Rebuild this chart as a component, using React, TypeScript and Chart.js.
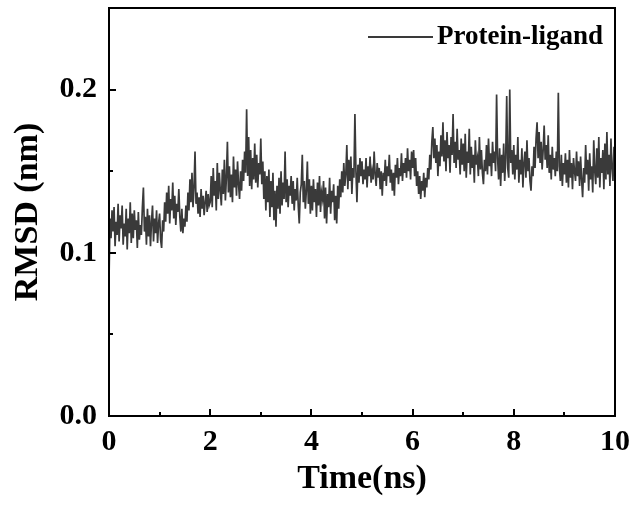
import React, { useEffect, useRef } from 'react';
import { Chart, registerables } from 'chart.js';

Chart.register(...registerables);

// ---- data (RMSD in nm, sampled every 0.02 ns) ----
const STEP_NS = 0.02;
const RMSD_0_1 = [
  0.083, 0.121, 0.109, 0.126, 0.113, 0.128, 0.104, 0.119, 0.111, 0.130,
  0.107, 0.123, 0.115, 0.129, 0.105, 0.118, 0.110, 0.127, 0.102, 0.121,
  0.112, 0.131, 0.106, 0.124, 0.109, 0.126, 0.114, 0.120, 0.103, 0.125,
  0.108, 0.117, 0.111, 0.128, 0.140, 0.113, 0.122, 0.105, 0.127, 0.110,
  0.123, 0.104, 0.119, 0.129, 0.107, 0.121, 0.112, 0.126, 0.106, 0.118,
];
const RMSD_1_2 = [
  0.124, 0.108, 0.103, 0.120, 0.113, 0.131, 0.119, 0.137, 0.124, 0.141,
  0.118, 0.133, 0.126, 0.143, 0.121, 0.135, 0.117, 0.130, 0.125, 0.139,
  0.122, 0.113, 0.127, 0.112, 0.121, 0.116, 0.129, 0.119, 0.137, 0.126,
  0.145, 0.131, 0.149, 0.128, 0.140, 0.162, 0.130, 0.137, 0.124, 0.134,
  0.122, 0.139, 0.127, 0.135, 0.123, 0.131, 0.138, 0.125, 0.136, 0.129,
];
const RMSD_2_3 = [
  0.131, 0.147, 0.128, 0.152, 0.135, 0.144, 0.126, 0.155, 0.133, 0.149,
  0.138, 0.129, 0.151, 0.136, 0.157, 0.132, 0.146, 0.168, 0.137, 0.153,
  0.134, 0.148, 0.131, 0.159, 0.140, 0.151, 0.135, 0.156, 0.142, 0.133,
  0.150, 0.138, 0.157, 0.144, 0.162, 0.149, 0.188, 0.147, 0.171, 0.141,
  0.163, 0.139, 0.158, 0.145, 0.167, 0.143, 0.160, 0.140, 0.155, 0.148,
];
const RMSD_3_4 = [
  0.170, 0.142, 0.156, 0.133, 0.150, 0.126, 0.147, 0.131, 0.151, 0.122,
  0.144, 0.128, 0.149, 0.120, 0.138, 0.116, 0.141, 0.127, 0.146, 0.124,
  0.150, 0.129, 0.143, 0.133, 0.162, 0.131, 0.145, 0.128, 0.141, 0.135,
  0.147, 0.130, 0.144, 0.126, 0.139, 0.132, 0.146, 0.129, 0.118, 0.137,
  0.142, 0.160, 0.131, 0.144, 0.127, 0.138, 0.156, 0.130, 0.145, 0.124,
];
const RMSD_4_5 = [
  0.141, 0.126, 0.145, 0.131, 0.139, 0.122, 0.143, 0.129, 0.147, 0.125,
  0.137, 0.133, 0.144, 0.121, 0.140, 0.118, 0.136, 0.128, 0.146, 0.124,
  0.138, 0.131, 0.142, 0.120, 0.135, 0.118, 0.141, 0.127, 0.145, 0.134,
  0.150, 0.137, 0.155, 0.141, 0.148, 0.166, 0.139, 0.157, 0.144, 0.159,
  0.136, 0.152, 0.146, 0.185, 0.150, 0.131, 0.154, 0.143, 0.158, 0.147,
];
const RMSD_5_6 = [
  0.156, 0.142, 0.151, 0.145, 0.158, 0.140, 0.153, 0.147, 0.159, 0.143,
  0.150, 0.145, 0.162, 0.148, 0.141, 0.155, 0.146, 0.152, 0.139, 0.150,
  0.135, 0.149, 0.144, 0.157, 0.141, 0.153, 0.147, 0.160, 0.143, 0.151,
  0.138, 0.149, 0.135, 0.154, 0.146, 0.158, 0.142, 0.152, 0.147, 0.161,
  0.144, 0.155, 0.149, 0.158, 0.146, 0.164, 0.150, 0.157, 0.145, 0.162,
];
const RMSD_6_7 = [
  0.152, 0.163, 0.147, 0.158, 0.141, 0.150, 0.136, 0.147, 0.133, 0.144,
  0.138, 0.149, 0.134, 0.146, 0.140, 0.152, 0.145, 0.160, 0.151, 0.168,
  0.177, 0.158, 0.170, 0.155, 0.166, 0.147, 0.162, 0.153, 0.172, 0.159,
  0.180, 0.156, 0.169, 0.150, 0.174, 0.158, 0.166, 0.149, 0.171, 0.160,
  0.185, 0.155, 0.168, 0.152, 0.176, 0.157, 0.163, 0.148, 0.170, 0.154,
];
const RMSD_7_8 = [
  0.167, 0.150, 0.173, 0.146, 0.162, 0.155, 0.176, 0.148, 0.165, 0.152,
  0.160, 0.143, 0.169, 0.154, 0.158, 0.147, 0.171, 0.151, 0.163, 0.149,
  0.142, 0.157, 0.150, 0.166, 0.148, 0.170, 0.153, 0.161, 0.147, 0.168,
  0.155, 0.162, 0.150, 0.197, 0.158, 0.145, 0.164, 0.141, 0.160, 0.149,
  0.167, 0.144, 0.158, 0.196, 0.152, 0.146, 0.200, 0.155, 0.163, 0.148,
];
const RMSD_8_9 = [
  0.166, 0.145, 0.160, 0.151, 0.171, 0.143, 0.157, 0.148, 0.164, 0.140,
  0.155, 0.162, 0.146, 0.169, 0.150, 0.158, 0.144, 0.138, 0.153, 0.147,
  0.165, 0.152, 0.170, 0.180, 0.158, 0.174, 0.155, 0.168, 0.151, 0.163,
  0.178, 0.157, 0.166, 0.152, 0.172, 0.149, 0.160, 0.145, 0.165, 0.151,
  0.158, 0.147, 0.162, 0.150, 0.198, 0.153, 0.144, 0.160, 0.141, 0.155,
];
const RMSD_9_10 = [
  0.148, 0.161, 0.143, 0.157, 0.140, 0.163, 0.146, 0.155, 0.139, 0.158,
  0.150, 0.144, 0.162, 0.147, 0.156, 0.141, 0.159, 0.145, 0.134, 0.152,
  0.143, 0.166, 0.148, 0.157, 0.138, 0.161, 0.145, 0.153, 0.137, 0.169,
  0.150, 0.142, 0.164, 0.146, 0.171, 0.140, 0.158, 0.149, 0.163, 0.139,
  0.167, 0.145, 0.174, 0.148, 0.160, 0.141, 0.170, 0.152, 0.144, 0.165,
  0.150,
];

const RMSD = [
  ...RMSD_0_1, ...RMSD_1_2, ...RMSD_2_3, ...RMSD_3_4, ...RMSD_4_5,
  ...RMSD_5_6, ...RMSD_6_7, ...RMSD_7_8, ...RMSD_8_9, ...RMSD_9_10,
];
const TIME = RMSD.map((_, i) => Math.round(i * STEP_NS * 100) / 100);

const SERIES_LABEL = 'Protein-ligand';
const X_MAJOR = [0, 2, 4, 6, 8, 10];
const X_MINOR = [1, 3, 5, 7, 9];
const Y_MAJOR = [0, 0.1, 0.2];
const Y_MINOR = [0.05, 0.15];

const FONT = '"Liberation Serif", "Times New Roman", serif';
const LINE_COLOR = '#3a3a3a';

const framePlugin = {
  id: 'frameTicks',
  afterDraw(chart: any) {
    const { ctx, chartArea, scales } = chart;
    const { left, right, top, bottom } = chartArea;
    const xs = scales.x;
    const ys = scales.y;
    ctx.save();
    ctx.strokeStyle = '#000';
    ctx.lineWidth = 2;
    ctx.strokeRect(left, top, right - left, bottom - top);
    ctx.beginPath();
    X_MAJOR.forEach((v) => {
      const p = Math.round(xs.getPixelForValue(v));
      ctx.moveTo(p, bottom);
      ctx.lineTo(p, bottom - 7);
    });
    X_MINOR.forEach((v) => {
      const p = Math.round(xs.getPixelForValue(v));
      ctx.moveTo(p, bottom);
      ctx.lineTo(p, bottom - 4);
    });
    Y_MAJOR.forEach((v) => {
      const p = Math.round(ys.getPixelForValue(v));
      ctx.moveTo(left, p);
      ctx.lineTo(left + 7, p);
    });
    Y_MINOR.forEach((v) => {
      const p = Math.round(ys.getPixelForValue(v));
      ctx.moveTo(left, p);
      ctx.lineTo(left + 4, p);
    });
    ctx.stroke();

    // legend (top-right inside the frame)
    const label = chart.data.datasets[0].label;
    const ly = top + 29;
    ctx.strokeStyle = LINE_COLOR;
    ctx.lineWidth = 2.2;
    ctx.beginPath();
    ctx.moveTo(right - 247, ly);
    ctx.lineTo(right - 182, ly);
    ctx.stroke();
    ctx.fillStyle = '#000';
    ctx.font = `bold 27px ${FONT}`;
    ctx.textBaseline = 'middle';
    ctx.textAlign = 'left';
    ctx.fillText(label, right - 178, ly);
    ctx.restore();
  },
};

export default function App() {
  const ref = useRef<HTMLCanvasElement | null>(null);

  useEffect(() => {
    if (!ref.current) return;
    const chart = new Chart(ref.current, {
      type: 'line',
      data: {
        datasets: [
          {
            label: SERIES_LABEL,
            data: TIME.map((t, i) => ({ x: t, y: RMSD[i] })),
            borderColor: LINE_COLOR,
            borderWidth: 1.7,
            pointRadius: 0,
            tension: 0,
            fill: false,
          },
        ],
      },
      options: {
        responsive: false,
        animation: false,
        layout: { padding: { left: 8, right: 25, top: 8, bottom: 0 } },
        plugins: { legend: { display: false }, tooltip: { enabled: false } },
        scales: {
          x: {
            type: 'linear',
            min: 0,
            max: 10,
            afterBuildTicks: (s: any) => {
              s.ticks = X_MAJOR.map((v) => ({ value: v }));
            },
            afterFit: (s: any) => {
              s.height = 89;
              s.paddingLeft = 0;
              s.paddingRight = 0;
            },
            grid: { display: false, drawTicks: false },
            border: { display: false },
            ticks: {
              padding: 8,
              color: '#000',
              maxRotation: 0,
              autoSkip: false,
              font: { family: FONT, size: 30, weight: 'bold' },
              callback: (v: any) => String(v),
            },
            title: {
              display: true,
              text: 'Time(ns)',
              color: '#000',
              font: { family: FONT, size: 34, weight: 'bold' },
              padding: { top: 0, bottom: 5 },
            },
          },
          y: {
            type: 'linear',
            min: 0,
            max: 0.25,
            afterBuildTicks: (s: any) => {
              s.ticks = Y_MAJOR.map((v) => ({ value: v }));
            },
            afterFit: (s: any) => {
              s.width = 101;
              s.paddingTop = 0;
              s.paddingBottom = 0;
            },
            grid: { display: false, drawTicks: false },
            border: { display: false },
            ticks: {
              padding: 12,
              color: '#000',
              autoSkip: false,
              font: { family: FONT, size: 30, weight: 'bold' },
              callback: (v: any) => Number(v).toFixed(1),
            },
            title: {
              display: true,
              text: 'RMSD (nm)',
              color: '#000',
              font: { family: FONT, size: 34, weight: 'bold' },
              padding: { top: 0, bottom: 0 },
            },
          },
        },
      } as any,
      plugins: [framePlugin],
    });
    return () => chart.destroy();
  }, []);

  return (
    <div style={{ position: 'fixed', left: 0, top: 0, width: 640, height: 505, background: '#fff' }}>
      <canvas ref={ref} width={640} height={505} />
    </div>
  );
}
